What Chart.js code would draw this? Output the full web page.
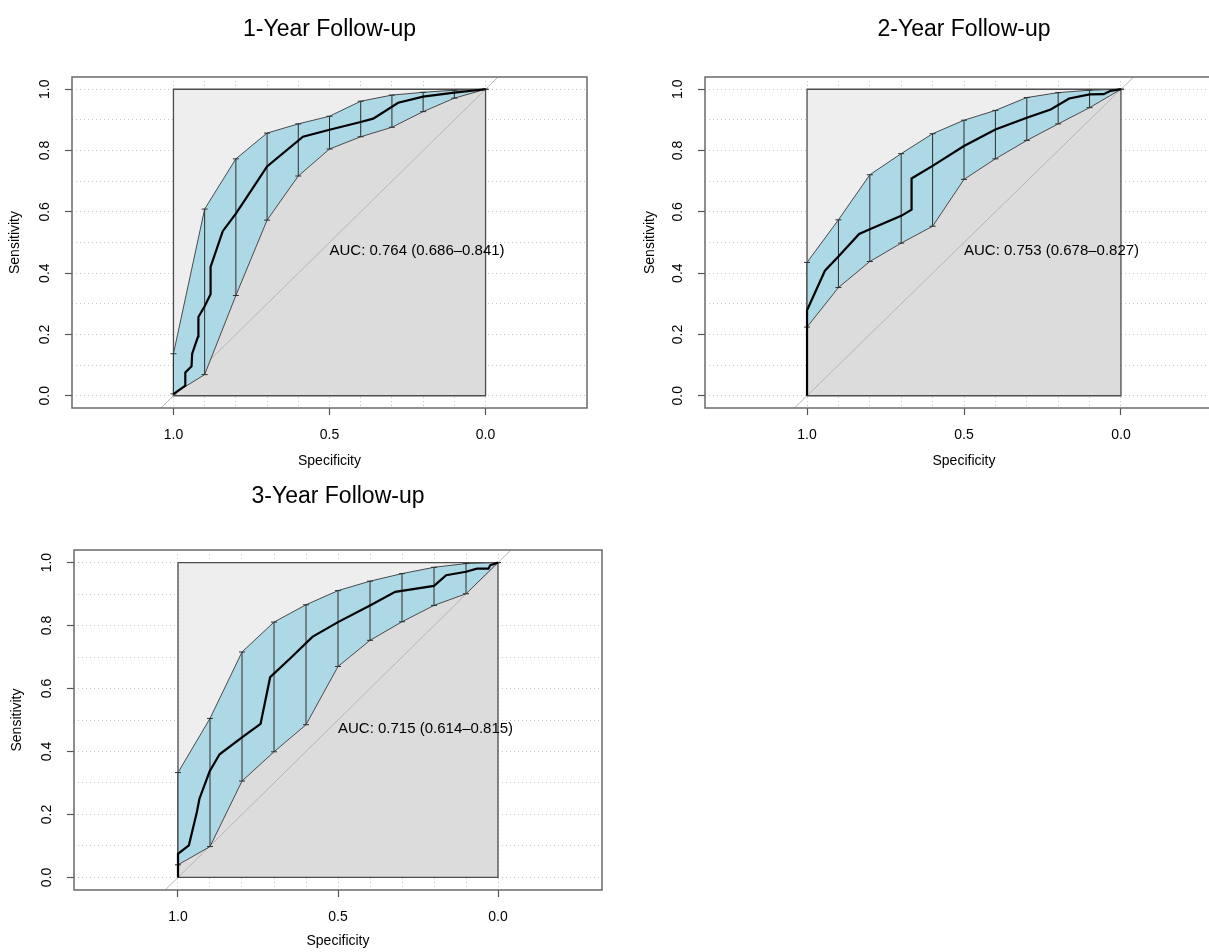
<!DOCTYPE html>
<html>
<head>
<meta charset="utf-8">
<script src="https://cdn.jsdelivr.net/npm/chart.js@4.4.1/dist/chart.umd.min.js"></script>
<style>
  html, body { margin: 0; padding: 0; background: #fff; overflow: hidden; }
  body { width: 1209px; height: 952px; position: relative; }
  canvas { position: absolute; }
</style>
</head>
<body>
<canvas id="roc1" width="659" height="480" style="left:0px;top:0px"></canvas>
<canvas id="roc2" width="662" height="480" style="left:633px;top:0px"></canvas>
<canvas id="roc3" width="676" height="482" style="left:0px;top:470px"></canvas>
<script>
// Axis ticks and grid
const xTickValues = [1.0, 0.5, 0.0];
const yTickValues = [0.0, 0.2, 0.4, 0.6, 0.8, 1.0];
const gridValues = [0.0, 0.1, 0.2, 0.3, 0.4, 0.5, 0.6, 0.7, 0.8, 0.9, 1.0];

const panelTitles = ['1-Year Follow-up', '2-Year Follow-up', '3-Year Follow-up'];
const aucLabels = ['AUC: 0.764 (0.686\u20130.841)', 'AUC: 0.753 (0.678\u20130.827)', 'AUC: 0.715 (0.614\u20130.815)'];
const aucAt = [0.5, 0.5];

// Specificities where the sensitivity CI was computed
const ciSpec = [1.0, 0.9, 0.8, 0.7, 0.6, 0.5, 0.4, 0.3, 0.2, 0.1, 0.0];

// 1-year
const year1Spec = [1.0, 0.962, 0.962, 0.942, 0.940, 0.921, 0.920, 0.900, 0.881, 0.881, 0.842, 0.800, 0.767, 0.700, 0.585, 0.500, 0.400, 0.360, 0.280, 0.200, 0.100, 0.0];
const year1Sens = [0.005, 0.033, 0.076, 0.096, 0.137, 0.194, 0.257, 0.292, 0.331, 0.420, 0.537, 0.594, 0.645, 0.748, 0.845, 0.868, 0.893, 0.904, 0.956, 0.976, 0.989, 1.0];
const year1Upper = [0.137, 0.609, 0.773, 0.857, 0.887, 0.912, 0.961, 0.981, 0.990, 0.997, 1.0];
const year1Lower = [0.006, 0.069, 0.327, 0.573, 0.717, 0.805, 0.845, 0.876, 0.927, 0.971, 1.0];

// 2-year
const year2Spec = [1.0, 1.0, 0.943, 0.900, 0.834, 0.800, 0.700, 0.667, 0.667, 0.600, 0.500, 0.400, 0.300, 0.224, 0.165, 0.100, 0.055, 0.033, 0.0];
const year2Sens = [0.0, 0.279, 0.408, 0.454, 0.528, 0.543, 0.587, 0.607, 0.709, 0.750, 0.815, 0.869, 0.907, 0.934, 0.970, 0.983, 0.984, 0.995, 1.0];
const year2Upper = [0.435, 0.574, 0.721, 0.790, 0.855, 0.899, 0.931, 0.973, 0.989, 0.997, 1.0];
const year2Lower = [0.224, 0.353, 0.438, 0.498, 0.553, 0.706, 0.773, 0.833, 0.887, 0.940, 1.0];

// 3-year
const year3Spec = [1.0, 1.0, 0.966, 0.941, 0.933, 0.901, 0.870, 0.800, 0.742, 0.712, 0.648, 0.580, 0.500, 0.400, 0.321, 0.200, 0.162, 0.100, 0.066, 0.030, 0.024, 0.0];
const year3Sens = [0.0, 0.075, 0.102, 0.208, 0.250, 0.337, 0.391, 0.445, 0.488, 0.636, 0.697, 0.764, 0.811, 0.864, 0.907, 0.926, 0.960, 0.971, 0.981, 0.981, 0.992, 1.0];
const year3Upper = [0.333, 0.505, 0.716, 0.811, 0.866, 0.911, 0.941, 0.965, 0.985, 0.997, 1.0];
const year3Lower = [0.040, 0.098, 0.306, 0.399, 0.485, 0.670, 0.753, 0.812, 0.864, 0.901, 1.0];

// unit square and chance line
const squareSpec = [1, 1, 0, 0, 1];
const squareSens = [0, 1, 1, 0, 0];
const chanceSpec = [1.04, -0.04];
const chanceSens = [-0.04, 1.04];

const FONT = '"Liberation Sans", Arial, Helvetica, sans-serif';
const none = 'rgba(0,0,0,0)';

function pts(xs, ys) {
    return xs.map((x, i) => ({ x: x, y: ys[i] }));
}

function near(list, v) {
    return list.some(t => Math.abs(t - v) < 1e-9);
}

// frame box around the plot region and the AUC text
const rocFrame = {
    id: 'rocFrame',
    afterDraw(chart, args, opts) {
        const { ctx, chartArea: a, scales: { x, y } } = chart;
        ctx.save();
        ctx.strokeStyle = '#6a6a6a';
        ctx.lineWidth = 1.5;
        ctx.strokeRect(a.left, a.top, a.right - a.left, a.bottom - a.top);
        ctx.fillStyle = '#000';
        ctx.font = '15px ' + FONT;
        ctx.textAlign = 'left';
        ctx.textBaseline = 'top';
        ctx.fillText(opts.text, x.getPixelForValue(aucAt[0]), y.getPixelForValue(aucAt[1]) + 1);
        ctx.restore();
    }
};

function makePanel(id, idx, spec, sens, upper, lower, geom) {
    const bars = [];
    ciSpec.forEach((s, i) => {
        bars.push({ x: s, y: lower[i] }, { x: s, y: upper[i] }, { x: s, y: null });
    });

    const datasets = [
        { label: 'ROC', data: pts(spec, sens), borderColor: '#000', borderWidth: 2.2, pointRadius: 0 },
        { label: 'CI bars', data: bars, borderColor: '#2e2e2e', borderWidth: 1, pointStyle: 'line',
          pointRadius: 3, pointBorderColor: '#2e2e2e', pointBorderWidth: 1, spanGaps: false },
        { label: 'CI lower', data: pts(ciSpec, lower), borderColor: '#4a4a4a', borderWidth: 1, pointRadius: 0 },
        { label: 'CI upper', data: pts(ciSpec, upper), borderColor: '#4a4a4a', borderWidth: 1, pointRadius: 0,
          fill: '-1', backgroundColor: '#ADD8E6' },
        { label: 'square', data: pts(squareSpec, squareSens), borderColor: '#4d4d4d', borderWidth: 1.3, pointRadius: 0 },
        { label: 'chance', data: pts(chanceSpec, chanceSens), borderColor: '#b5b5b5', borderWidth: 1, pointRadius: 0 },
        { label: 'AUC area', data: pts(spec, sens), borderColor: none, borderWidth: 0, pointRadius: 0,
          fill: { value: 0 }, backgroundColor: '#DCDCDC' },
        { label: 'max AUC area', data: pts([1, 0], [1, 1]), borderColor: none, borderWidth: 0, pointRadius: 0,
          fill: { value: 0 }, backgroundColor: '#EEEEEE' }
    ];

    const tickFont = { family: FONT, size: 14 };
    const gridTicks = s => { s.ticks = gridValues.map(v => ({ value: v })); };

    return new Chart(document.getElementById(id), {
        type: 'line',
        data: { datasets: datasets },
        options: {
            responsive: false,
            animation: false,
            events: [],
            layout: { padding: { left: 0, right: geom.right, top: 0, bottom: 0 } },
            plugins: {
                legend: { display: false },
                tooltip: { enabled: false },
                title: {
                    display: true, fullSize: false, text: panelTitles[idx], color: '#000',
                    font: { family: FONT, size: 23, weight: 'normal' },
                    padding: { top: geom.titleTop, bottom: geom.titleBottom }
                },
                rocFrame: { text: aucLabels[idx] }
            },
            scales: {
                x: {
                    type: 'linear', reverse: true, min: -0.325, max: 1.325,
                    afterFit: s => { s.height = geom.xHeight; },
                    afterBuildTicks: gridTicks,
                    ticks: {
                        autoSkip: false, maxRotation: 0, minRotation: 0, padding: geom.xTickPad,
                        color: '#000', font: tickFont,
                        callback: v => near(xTickValues, v) ? v.toFixed(1) : ''
                    },
                    grid: {
                        color: '#c4c4c4', lineWidth: 1, tickLength: 7, tickWidth: 1.2, tickBorderDash: [],
                        tickColor: c => (c.tick && near(xTickValues, c.tick.value)) ? '#555' : none
                    },
                    border: { display: false, dash: [1, 3] },
                    title: { display: true, text: 'Specificity', color: '#000', font: tickFont,
                             padding: { top: 0, bottom: geom.xTitlePad } }
                },
                y: {
                    type: 'linear', min: -0.04, max: 1.04,
                    afterFit: s => { s.width = geom.yWidth; },
                    afterBuildTicks: gridTicks,
                    ticks: {
                        autoSkip: false, minRotation: 90, maxRotation: 90, crossAlign: 'center',
                        padding: 10, color: '#000', font: tickFont,
                        callback: v => near(yTickValues, v) ? v.toFixed(1) : ''
                    },
                    grid: {
                        color: '#c4c4c4', lineWidth: 1, tickLength: 7, tickWidth: 1.2, tickBorderDash: [],
                        tickColor: c => (c.tick && near(yTickValues, c.tick.value)) ? '#555' : none
                    },
                    border: { display: false, dash: [1, 3] },
                    title: { display: true, text: 'Sensitivity', color: '#000', font: tickFont,
                             padding: { top: geom.yTitlePad, bottom: 0 } }
                }
            }
        },
        plugins: [rocFrame]
    });
}

makePanel('roc1', 0, year1Spec, year1Sens, year1Upper, year1Lower,
    { right: 72, yWidth: 72, xHeight: 72, titleTop: 16, titleBottom: 33.4, xTickPad: 12, xTitlePad: 10, yTitlePad: 7 });
makePanel('roc2', 1, year2Spec, year2Sens, year2Upper, year2Lower,
    { right: 72, yWidth: 72, xHeight: 72, titleTop: 16, titleBottom: 33.4, xTickPad: 12, xTitlePad: 10, yTitlePad: 9 });
makePanel('roc3', 2, year3Spec, year3Sens, year3Upper, year3Lower,
    { right: 74, yWidth: 74, xHeight: 62, titleTop: 13, titleBottom: 39.4, xTickPad: 12, xTitlePad: 2, yTitlePad: 9 });
</script>
</body>
</html>
